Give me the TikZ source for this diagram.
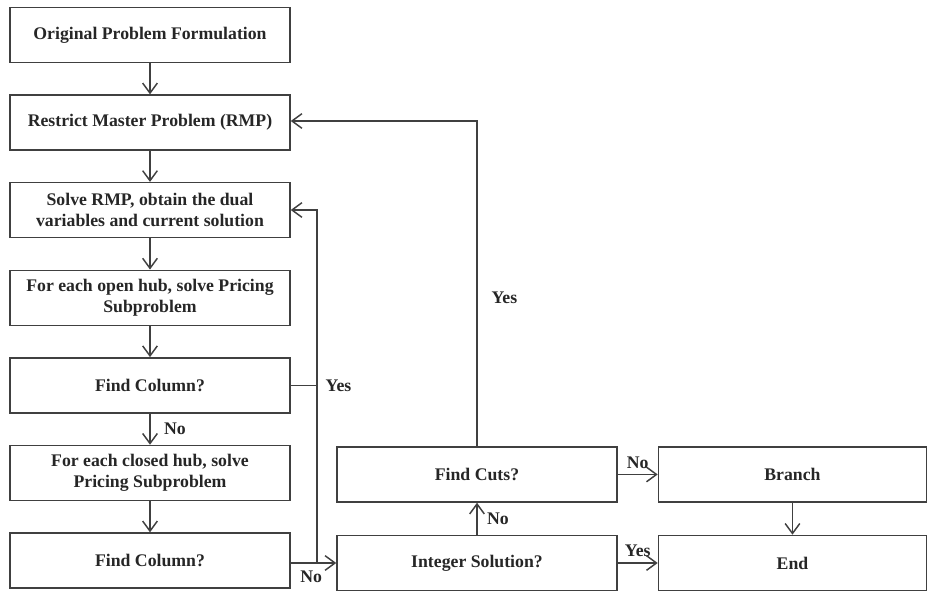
\documentclass[tikz,border=0pt]{standalone}
\usepackage{fontspec}
\setmainfont{Liberation Serif}
\usetikzlibrary{positioning,arrows.meta}

\begin{document}
\begin{tikzpicture}[
    x=0.75pt, y=-0.75pt,
    node distance=23.3pt,
    procbox/.style={draw=black!75, line width=1.1pt, rectangle, minimum width=210pt, minimum height=41.3pt, align=center, font=\fontsize{13.3}{15.5}\selectfont\bfseries, text=black!85},
    lbl/.style={font=\fontsize{13.3}{15.5}\selectfont\bfseries, text=black!85, inner sep=1pt},
    arrow/.style={draw=black!75, line width=1.1pt, -{Straight Barb[length=7.5pt, width=11pt, line width=1.1pt]}},
    link/.style={draw=black!75, line width=1.1pt}
]
  \useasboundingbox (0,0) rectangle (929,591);

  % Nodes
  \node (orig) [procbox] at (150,35) {Original Problem Formulation};
  \node (rmp) [procbox, below=of orig] {Restrict Master Problem (RMP)};
  \node (solve) [procbox, below=of rmp] {Solve RMP, obtain the dual\\variables and current solution};
  \node (openhub) [procbox, below=of solve] {For each open hub, solve Pricing\\Subproblem};
  \node (findA) [procbox, below=of openhub] {Find Column?};
  \node (closedhub) [procbox, below=of findA] {For each closed hub, solve\\Pricing Subproblem};
  \node (findB) [procbox, below=of closedhub] {Find Column?};

  \node (intsol) [procbox] at (477,563) {Integer Solution?};
  \node (cuts) [procbox, above=24pt of intsol] {Find Cuts?};
  \node (branch) [procbox, minimum width=201pt, right=30pt of cuts] {Branch};
  \node (endbox) [procbox, minimum width=201pt, below=24pt of branch] {End};

  \coordinate (jtop) at (317,210);
  \coordinate (jbot) at (317,563);
  \coordinate (ctop) at (477,121);

  % Arrows
  \draw [arrow] (orig) -- (rmp);
  \draw [arrow] (rmp) -- (solve);
  \draw [arrow] (solve) -- (openhub);
  \draw [arrow] (openhub) -- (findA);
  \draw [arrow] (findA) -- node [lbl, right=9pt] {No} (closedhub);
  \draw [arrow] (closedhub) -- (findB);

  \draw [link] (findA.east) -- (findA.east -| jtop) node [lbl, right=5pt] {Yes};
  \draw [arrow] (jbot) -- (jtop) -- (solve.east |- jtop);
  \draw [arrow] (findB.east |- jbot) -- node [lbl, below=4pt, pos=0.45] {No} (intsol.west |- jbot);

  \draw [arrow] (intsol) -- node [lbl, right=6pt] {No} (cuts);
  \draw [arrow] (cuts.north) -- (ctop) -- (rmp.east |- ctop);
  \node [lbl, anchor=west] at (490,298) {Yes};
  \draw [arrow] (cuts) -- node [lbl, above=3pt] {No} (branch);
  \draw [arrow] (intsol) -- node [lbl, above=3pt] {Yes} (endbox);
  \draw [arrow] (branch) -- (endbox);
\end{tikzpicture}
\end{document}
